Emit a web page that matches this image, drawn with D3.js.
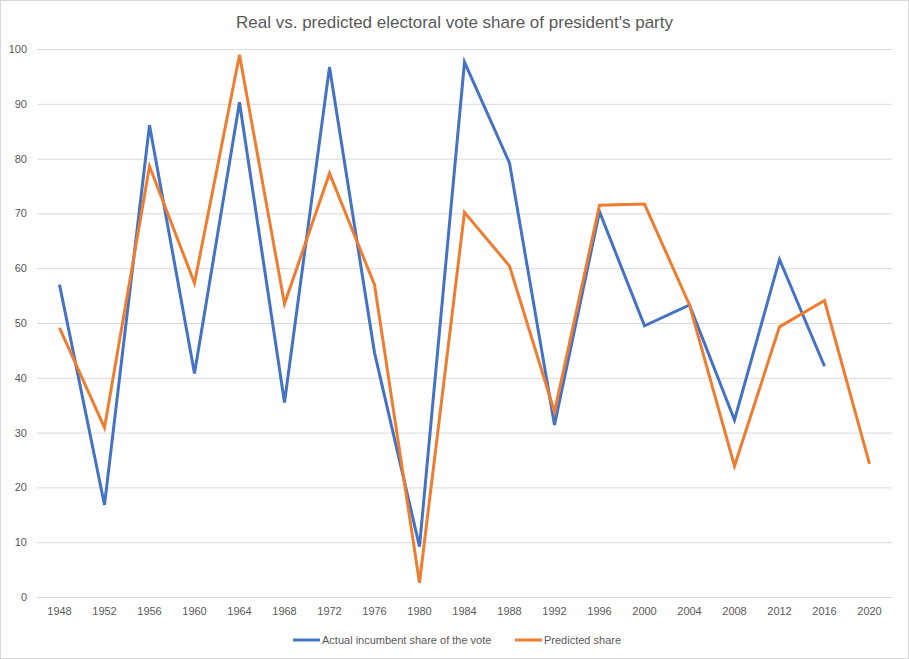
<!DOCTYPE html>
<html lang="en">
<head>
<meta charset="utf-8">
<title>Real vs. predicted electoral vote share</title>
<script src="https://d3js.org/d3.v7.min.js"></script>
<style>
  body { margin: 0; background: #fff; }
  svg text { font-family: "Liberation Sans Narrow", "Liberation Sans", Arial, sans-serif; fill: #595959; }
  .grid line { stroke: #d9d9d9; stroke-width: 1; }
  .grid path { display: none; }
  .axis path, .axis line { display: none; }
  .line { fill: none; stroke-width: 3; stroke-linejoin: miter; }
</style>
</head>
<body>
<script>
var years = ["1948","1952","1956","1960","1964","1968","1972","1976","1980","1984",
             "1988","1992","1996","2000","2004","2008","2012","2016","2020"];
var actual = [57.0, 16.8, 86.1, 40.8, 90.3, 35.5, 96.7, 44.6, 9.2, 97.6,
              79.2, 31.4, 70.3, 49.5, 53.3, 32.3, 61.6, 42.1, null];
var predicted = [49.1, 30.9, 78.6, 57.3, 98.9, 53.5, 77.3, 57.0, 2.6, 70.2,
                 60.4, 33.8, 71.5, 71.7, 53.3, 23.9, 49.3, 54.1, 24.3];
var yTicks = [0, 10, 20, 30, 40, 50, 60, 70, 80, 90, 100];
var seriesNames = ["Actual incumbent share of the vote", "Predicted share"];
var colors = ["#4472c4", "#ed7d31"];

var W = 909, H = 659;
var margin = {top: 49, right: 17, bottom: 62, left: 37};
var width = W - margin.left - margin.right,
    height = H - margin.top - margin.bottom;

var svg = d3.select("body").append("svg")
    .attr("width", W).attr("height", H);

svg.append("rect")
    .attr("x", 0.5).attr("y", 0.5)
    .attr("width", W - 1).attr("height", H - 1)
    .attr("fill", "#fff").attr("stroke", "#d9d9d9");

svg.append("text")
    .attr("x", W / 2).attr("y", 28)
    .attr("text-anchor", "middle")
    .style("font-size", "17px")
    .text("Real vs. predicted electoral vote share of president's party");

var g = svg.append("g")
    .attr("transform", "translate(" + margin.left + "," + margin.top + ")");

var x = d3.scaleBand().domain(years).range([0, width]);
var y = d3.scaleLinear().domain([0, 100]).range([height, 0]);

g.append("g").attr("class", "grid")
    .call(d3.axisLeft(y).tickValues(yTicks).tickSize(-width).tickFormat(""));

g.append("g").attr("class", "axis")
    .call(d3.axisLeft(y).tickValues(yTicks).tickSize(0).tickPadding(10))
    .selectAll("text").style("font-size", "11px");

g.append("g").attr("class", "axis")
    .attr("transform", "translate(0," + height + ")")
    .call(d3.axisBottom(x).tickSize(0).tickPadding(10))
    .selectAll("text").style("font-size", "11px");

var line = d3.line()
    .defined(function(d) { return d.v != null; })
    .x(function(d) { return x(d.year) + x.bandwidth() / 2; })
    .y(function(d) { return y(d.v); });

[actual, predicted].forEach(function(s, i) {
  var pts = years.map(function(yr, j) { return {year: yr, v: s[j]}; });
  g.append("path")
    .datum(pts)
    .attr("class", "line")
    .attr("stroke", colors[i])
    .attr("d", line);
});

// legend
var legend = svg.append("g").attr("transform", "translate(0," + 640 + ")");
var lx = [293, 515];
seriesNames.forEach(function(name, i) {
  legend.append("line")
    .attr("x1", lx[i]).attr("x2", lx[i] + 27)
    .attr("y1", 0).attr("y2", 0)
    .attr("stroke", colors[i]).attr("stroke-width", 3);
  legend.append("text")
    .attr("x", lx[i] + 29).attr("y", 4)
    .style("font-size", "11px")
    .text(name);
});
</script>
</body>
</html>
